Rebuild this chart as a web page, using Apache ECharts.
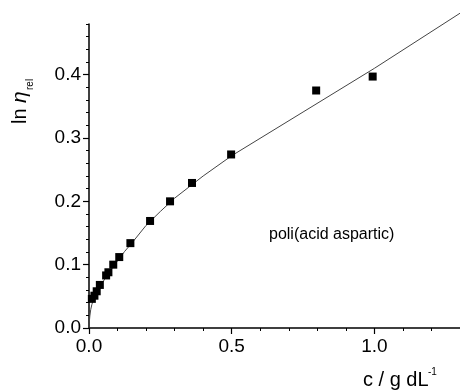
<!DOCTYPE html>
<html><head><meta charset="utf-8">
<script src="https://cdn.jsdelivr.net/npm/echarts@6/dist/echarts.min.js"></script>
<style>html,body{margin:0;padding:0;background:#fff}#c{width:460px;height:390px}</style>
</head><body><div id="c"></div>
<script>
// measured points: concentration c (g/dL) and ln eta_rel
var concentration = [0.010, 0.019, 0.027, 0.038, 0.060, 0.068, 0.085, 0.106, 0.145, 0.214, 0.284, 0.361, 0.498, 0.796, 0.994];
var lnEtaRel      = [0.046, 0.051, 0.058, 0.068, 0.083, 0.088, 0.100, 0.112, 0.134, 0.169, 0.200, 0.229, 0.274, 0.375, 0.397];
// fitted curve
var fitC   = [0, 0.001, 0.003, 0.006, 0.010, 0.015, 0.020, 0.030, 0.040, 0.055, 0.070, 0.085, 0.100, 0.125, 0.150, 0.200, 0.250, 0.300, 0.400, 0.500, 0.750, 1.000, 1.300];
var fitLn  = [0, 0.009, 0.019, 0.029, 0.037, 0.044, 0.050, 0.059, 0.067, 0.077, 0.087, 0.097, 0.106, 0.121, 0.134, 0.162, 0.184, 0.205, 0.240, 0.272, 0.341, 0.410, 0.497];
var xTickLabels = [0, 0.5, 1.0];
var yTickLabels = [0, 0.1, 0.2, 0.3, 0.4];
var annotation = 'poli(acid aspartic)';

var pts = concentration.map(function (c, i) { return [c, lnEtaRel[i]]; });
var fit = fitC.map(function (c, i) { return [c, fitLn[i]]; });
var F = 'Liberation Sans, Arial, sans-serif';

var chart = echarts.init(document.getElementById('c'));
chart.setOption({
  animation: false,
  grid: { left: 89, right: 0, top: 24, bottom: 62 },
  xAxis: [{
    type: 'value', min: 0, max: 1.3, interval: 0.1,
    axisLine: { lineStyle: { color: '#000', width: 1.5 } },
    axisTick: { inside: false, length: 3, lineStyle: { color: '#000', width: 1 } },
    axisLabel: { show: false }, splitLine: { show: false }
  }, {
    type: 'value', min: 0, max: 1.3, position: 'bottom',
    axisLine: { show: false },
    axisTick: { length: 6, customValues: xTickLabels, lineStyle: { color: '#000', width: 1.2 } },
    axisLabel: { customValues: xTickLabels, margin: 9, color: '#000', fontFamily: F, fontSize: 19,
      formatter: function (v) { return v.toFixed(1); } },
    splitLine: { show: false }
  }],
  yAxis: [{
    type: 'value', min: 0, max: 0.48, interval: 0.02,
    axisLine: { show: true, lineStyle: { color: '#000', width: 1.5 } },
    axisTick: { show: true, length: 3, lineStyle: { color: '#000', width: 1 } },
    axisLabel: { show: false }, splitLine: { show: false }
  }, {
    type: 'value', min: 0, max: 0.48, position: 'left',
    axisLine: { show: false },
    axisTick: { show: true, length: 6, customValues: yTickLabels, lineStyle: { color: '#000', width: 1.2 } },
    axisLabel: { customValues: yTickLabels, margin: 8, color: '#000', fontFamily: F, fontSize: 19,
      formatter: function (v) { return v.toFixed(1); } },
    splitLine: { show: false }
  }],
  series: [{
    type: 'line', data: fit, xAxisIndex: 0, yAxisIndex: 0, smooth: false, clip: false,
    showSymbol: false, lineStyle: { color: '#444', width: 1 }, z: 2
  }, {
    type: 'scatter', data: pts, xAxisIndex: 0, yAxisIndex: 0,
    symbol: 'rect', symbolSize: 8, itemStyle: { color: '#000', opacity: 1 }, z: 3
  }],
  graphic: [{
    type: 'text', x: 269, y: 235,
    style: { text: annotation, fontFamily: F, fontSize: 16, fill: '#000', verticalAlign: 'middle', align: 'left' }
  }, {
    type: 'group', x: 363, y: 380, children: [
      { type: 'text', x: 0, y: 0, style: { text: 'c / g dL', fontFamily: F, fontSize: 20, fill: '#000', verticalAlign: 'middle', align: 'left' } },
      { type: 'text', x: 65, y: -8, style: { text: '-1', fontFamily: F, fontSize: 10, fill: '#000', verticalAlign: 'middle', align: 'left' } }
    ]
  }, {
    type: 'group', x: 20, y: 124, rotation: Math.PI / 2, children: [
      { type: 'text', x: 0, y: 0, style: { text: 'ln', fontFamily: F, fontSize: 20, fill: '#000', verticalAlign: 'middle', align: 'left' } },
      { type: 'text', x: 21, y: 0, style: { text: 'η', fontFamily: F, fontSize: 21, fontStyle: 'italic', fill: '#000', verticalAlign: 'middle', align: 'left' } },
      { type: 'text', x: 34, y: 10, style: { text: 'rel', fontFamily: F, fontSize: 10, fill: '#000', verticalAlign: 'middle', align: 'left' } }
    ]
  }]
});
</script></body></html>
